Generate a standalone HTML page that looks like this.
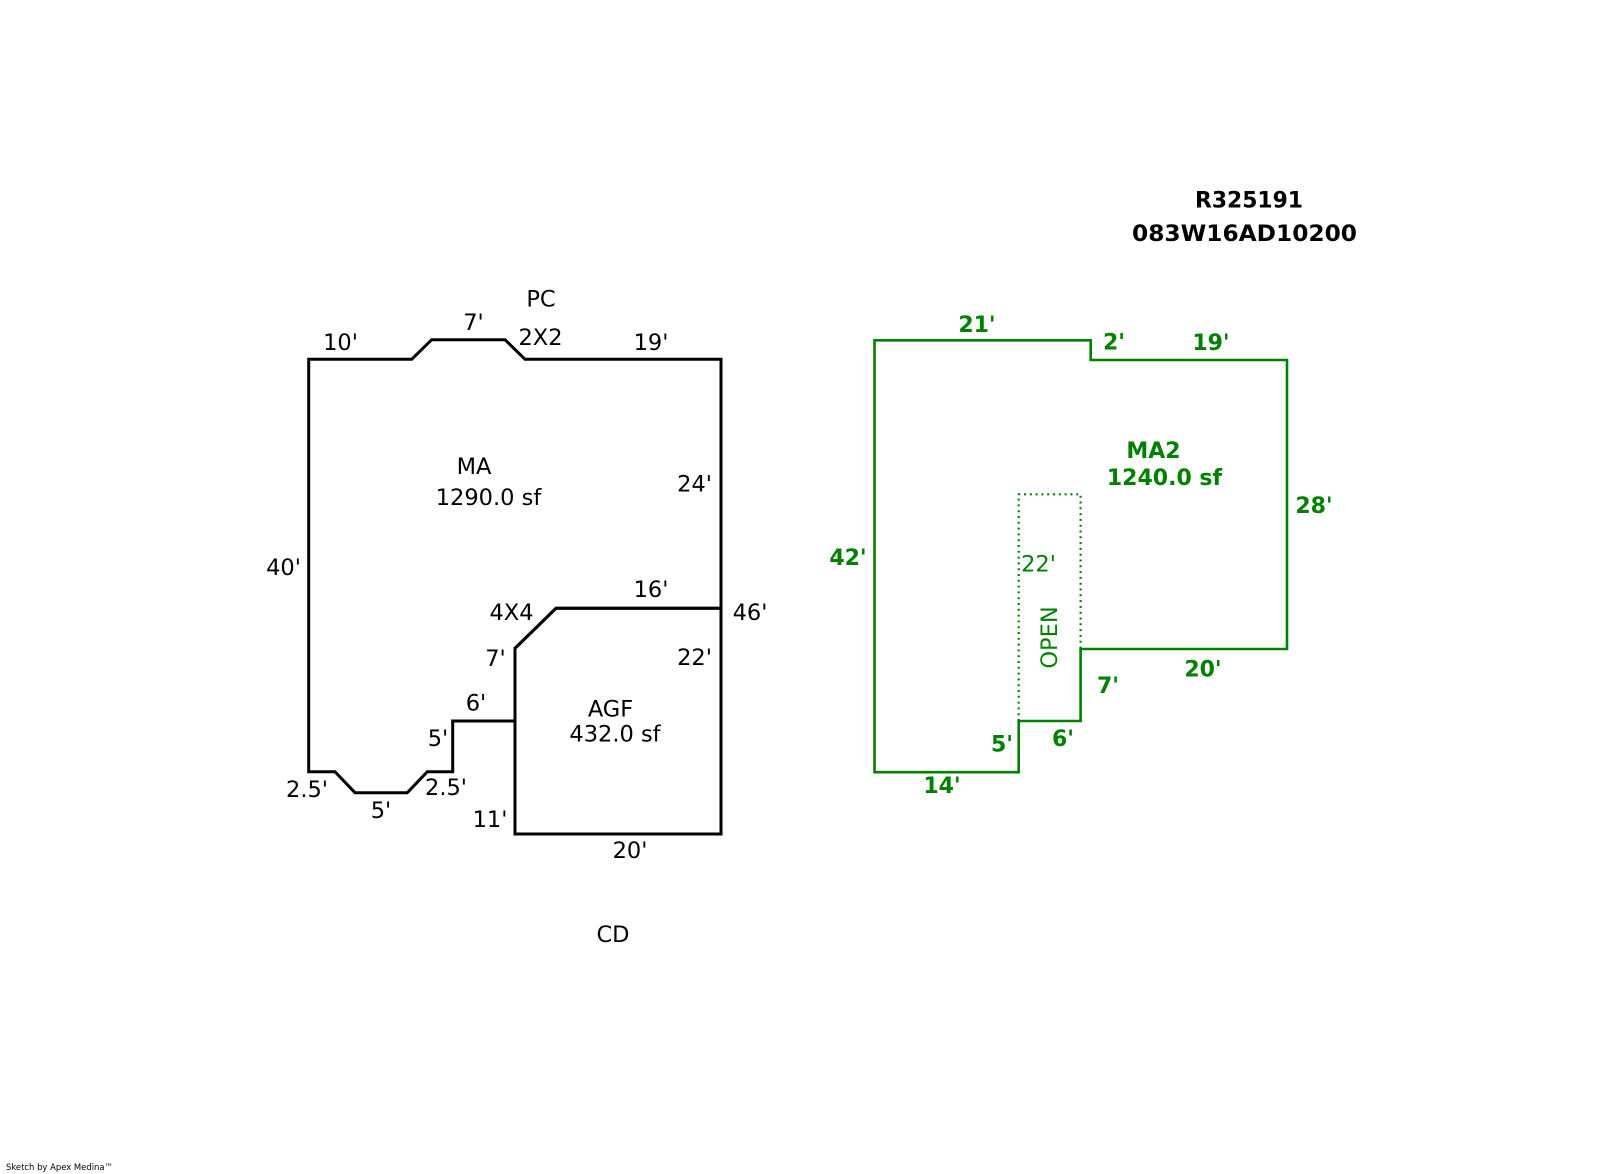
<!DOCTYPE html>
<html>
<head>
<meta charset="utf-8">
<style>
  html, body { margin:0; padding:0; background:#fff; }
  body { width:1600px; height:1174px; overflow:hidden; }
  svg { display:block; }
  .b { font-family:"DejaVu Sans","Liberation Sans",sans-serif; font-size:22.5px; fill:#000; }
  .g { font-family:"DejaVu Sans","Liberation Sans",sans-serif; font-size:22px; font-weight:bold; fill:#008000; }
  .gr { font-family:"DejaVu Sans","Liberation Sans",sans-serif; font-size:22.5px; fill:#008000; }
  .t { font-family:"DejaVu Sans","Liberation Sans",sans-serif; font-size:22px; font-weight:bold; fill:#000; }
</style>
</head>
<body>
<svg width="1600" height="1174" viewBox="0 0 1600 1174" xmlns="http://www.w3.org/2000/svg">
  <!-- Black MA polygon -->
  <polygon points="308.7,359.3 411.7,359.3 431.7,339.7 505,339.7 525,359.3 721,359.3 721,608.3 556,608.3 515,648.3 515,721 452.7,721 452.7,771.7 427.3,771.7 407.3,792.7 355,792.7 335,771.7 308.7,771.7"
    fill="none" stroke="#000" stroke-width="3" stroke-linejoin="miter"/>
  <!-- AGF -->
  <polygon points="515,648.3 556,608.3 721,608.3 721,834 515,834"
    fill="none" stroke="#000" stroke-width="3"/>

  <!-- Black labels -->
  <g class="b" text-anchor="middle">
    <text x="541" y="306.7">PC</text>
    <text x="473.5" y="330">7'</text>
    <text x="340.5" y="350">10'</text>
    <text x="540.5" y="345">2X2</text>
    <text x="651" y="350">19'</text>
    <text x="474" y="474">MA</text>
    <text x="488.5" y="505">1290.0 sf</text>
    <text x="694.5" y="491.7">24'</text>
    <text x="283.5" y="575">40'</text>
    <text x="651" y="597">16'</text>
    <text x="511.5" y="620">4X4</text>
    <text x="750" y="620">46'</text>
    <text x="495.5" y="666">7'</text>
    <text x="694.5" y="665">22'</text>
    <text x="476" y="710.7">6'</text>
    <text x="610.5" y="716.7">AGF</text>
    <text x="615" y="741.7">432.0 sf</text>
    <text x="438" y="746">5'</text>
    <text x="307" y="797">2.5'</text>
    <text x="446" y="795">2.5'</text>
    <text x="381" y="818">5'</text>
    <text x="490" y="827">11'</text>
    <text x="630" y="858">20'</text>
    <text x="613" y="942">CD</text>
  </g>

  <!-- Green MA2 polygon -->
  <polygon points="874.5,340.3 1090.7,340.3 1090.7,360 1287,360 1287,649 1080.6,649 1080.6,721 1018.7,721 1018.7,772.2 874.5,772.2"
    fill="none" stroke="#008000" stroke-width="2.6"/>
  <!-- Dotted OPEN area -->
  <polyline points="1018.7,721 1018.7,494.3 1080.6,494.3 1080.6,649"
    fill="none" stroke="#008000" stroke-width="2.2" stroke-dasharray="2 3.8"/>

  <!-- Green labels -->
  <g class="g" text-anchor="middle">
    <text x="977" y="332">21'</text>
    <text x="1114" y="349.5">2'</text>
    <text x="1211" y="350">19'</text>
    <text x="1153.5" y="458">MA2</text>
    <text x="1164.5" y="485">1240.0 sf</text>
    <text x="1314" y="513">28'</text>
    <text x="848" y="565">42'</text>
    <text x="1203" y="676.7">20'</text>
    <text x="1108" y="693">7'</text>
    <text x="1063" y="746">6'</text>
    <text x="1002" y="751.7">5'</text>
    <text x="942" y="793">14'</text>
  </g>
  <g class="gr" text-anchor="middle">
    <text x="1038.5" y="571.7">22'</text>
    <text transform="translate(1057,637.5) rotate(-90)">OPEN</text>
  </g>

  <!-- Title -->
  <g class="t" text-anchor="middle">
    <text x="1249" y="207.5" textLength="108" lengthAdjust="spacingAndGlyphs">R325191</text>
    <text x="1244.5" y="241" textLength="225" lengthAdjust="spacingAndGlyphs">083W16AD10200</text>
  </g>

  <!-- Footer -->
  <text x="6" y="1170" font-family="'DejaVu Sans','Liberation Sans',sans-serif" font-size="9" fill="#000" textLength="107" lengthAdjust="spacingAndGlyphs">Sketch by Apex Medina™</text>
</svg>
</body>
</html>
